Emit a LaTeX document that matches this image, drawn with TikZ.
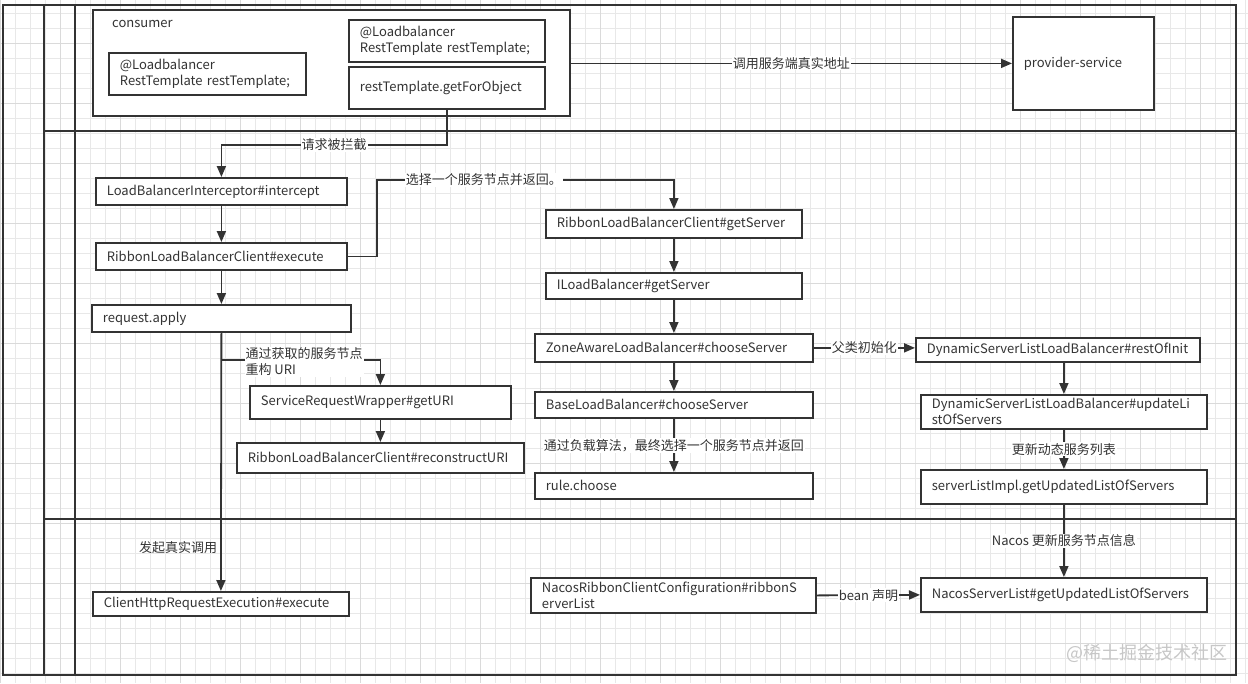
\documentclass[tikz,border=0pt]{standalone}
\usepackage{fontspec}
\setmainfont{Noto Sans CJK SC}
\usetikzlibrary{arrows.meta}
\definecolor{ink}{HTML}{333333}
\definecolor{gridminor}{HTML}{E8E8E8}
\definecolor{gridmajor}{HTML}{DADADA}
\tikzset{
  box/.style 2 args={draw=ink, line width=1.8pt, fill=white, text=ink,
    anchor=north west, inner xsep=11pt, inner ysep=0pt, align=left,
    minimum width=#1pt, text width=#1pt-22pt, minimum height=#2pt},
  arr/.style={draw=ink, line width=1.8pt, -{Triangle[length=11pt,width=9pt]}},
  lbl/.style={fill=white, inner sep=1pt, text=ink},
  lane/.style={draw=ink, line width=2pt},
}
\begin{document}
\begin{tikzpicture}[x=1pt, y=-1pt, font=\fontsize{13}{16}\selectfont]
  \useasboundingbox (0,0) rectangle (1248,683);
  \fill[white] (0,0) rectangle (1248,683);
  % grid
  \foreach \gx in {0,15,...,1245} \draw[gridminor, line width=0.8pt] (\gx,0) -- (\gx,683);
  \foreach \gy in {-2,13,...,682} \draw[gridminor, line width=0.8pt] (0,\gy) -- (1248,\gy);
  \foreach \gx in {0,60,...,1240} \draw[gridmajor, line width=0.8pt] (\gx,0) -- (\gx,683);
  \foreach \gy in {43,103,...,682} \draw[gridmajor, line width=0.8pt] (0,\gy) -- (1248,\gy);

  % pool and lanes
  \draw[lane] (3,5) rectangle (1236,675);
  \draw[lane] (44,5) -- (44,675);
  \draw[lane] (75,5) -- (75,675);
  \draw[lane] (44,131) -- (1236,131);
  \draw[lane] (44,519) -- (1236,519);

  % consumer lane
  \node[box={477}{106}] (consumer) at (92,9) {};
  \node[anchor=west, text=ink, inner sep=0pt] (consumertitle) at (112,24) {consumer};
  \node[box={197}{42}] (lbdecl) at (108,52) {@Loadbalancer\\RestTemplate restTemplate;};
  \node[box={196}{42}] (lbfield) at (348,19) {@Loadbalancer\\RestTemplate restTemplate;};
  \node[box={196}{42}] (getobj) at (348,66) {restTemplate.getForObject};
  \node[box={141}{93}] (provider) at (1012,16) {provider-service};

  % ribbon lane
  \node[box={251}{27}] (lbi) at (95,177) {LoadBalancerInterceptor\#intercept};
  \node[box={251}{27}] (rexec) at (95,242) {RibbonLoadBalancerClient\#execute};
  \node[box={259}{27}] (apply) at (91,304) {request.apply};
  \node[box={261}{33}] (srw) at (249,385) {ServiceRequestWrapper\#getURI};
  \node[box={287}{30}] (recon) at (236,442) {RibbonLoadBalancerClient\#reconstructURI};
  \node[box={256}{28}] (getsrv) at (545,209) {RibbonLoadBalancerClient\#getServer};
  \node[box={256}{26}] (ilb) at (545,272) {ILoadBalancer\#getServer};
  \node[box={278}{28}] (zone) at (534,333) {ZoneAwareLoadBalancer\#chooseServer};
  \node[box={278}{26}] (base) at (534,391) {BaseLoadBalancer\#chooseServer};
  \node[box={278}{26}] (rule) at (534,472) {rule.choose};
  \node[box={284}{24}] (restinit) at (915,337) {DynamicServerListLoadBalancer\#restOfInit};
  \node[box={286}{34}] (update) at (920,394) {DynamicServerListLoadBalancer\#updateLi\\stOfServers};
  \node[box={286}{34}] (slimpl) at (920,469) {serverListImpl.getUpdatedListOfServers};

  % http lane
  \node[box={256}{24}] (cexec) at (92,591) {ClientHttpRequestExecution\#execute};
  \node[box={285}{35}] (nrcfg) at (530,577) {NacosRibbonClientConfiguration\#ribbonS\\erverList};
  \node[box={286}{34}] (nsl) at (920,577) {NacosServerList\#getUpdatedListOfServers};

  % connectors
  \draw[arr] (consumer.east |- provider.west) -- node[lbl]{调用服务端真实地址} (provider.west);
  \draw[arr] (getobj.south) -- ++(0,35) -| node[lbl, pos=0.25]{请求被拦截} (lbi.north);
  \draw[arr] (lbi.south) -- (rexec.north);
  \draw[arr] (rexec.south) -- (apply.north);
  \draw[arr] (rexec.east) -- ++(29,0) |- node[lbl, pos=0.68]{选择一个服务节点并返回。} ([yshift=29pt]getsrv.north) -- (getsrv.north);
  \draw[arr] (getsrv.south) -- (ilb.north);
  \draw[arr] (ilb.south) -- (zone.north);
  \draw[arr] (zone.south) -- (base.north);
  \draw[arr] (base.south) -- node[lbl]{通过负载算法，最终选择一个服务节点并返回} (rule.north);
  \draw[arr] (zone.east) -- node[lbl]{父类初始化} (zone.east -| restinit.west);
  \draw[arr] (update.north |- restinit.south) -- (update.north);
  \draw[arr] (update.south) -- node[lbl]{更新动态服务列表} (slimpl.north);
  \draw[arr] (slimpl.south) -- node[lbl, pos=0.5]{Nacos 更新服务节点信息} (nsl.north);
  \draw[arr] (nrcfg.east) -- node[lbl]{bean 声明} (nsl.west);
  \draw[arr] (apply.south) -- node[pos=0.83, anchor=east, text=ink, inner sep=3pt]{发起真实调用} (cexec.north);
  \draw[arr] ([yshift=-27pt]apply.south) -| node[lbl, pos=0.07, anchor=west, align=left, yshift=-2pt]{通过获取的服务节点\\重构 URI} (srw.north);
  \draw[arr] (srw.south) -- (recon.north);

  \node[anchor=east, text=black!22, font=\fontsize{18}{18}\selectfont, inner sep=0pt] (mark) at (1228,653) {@稀土掘金技术社区};
\end{tikzpicture}
\end{document}
